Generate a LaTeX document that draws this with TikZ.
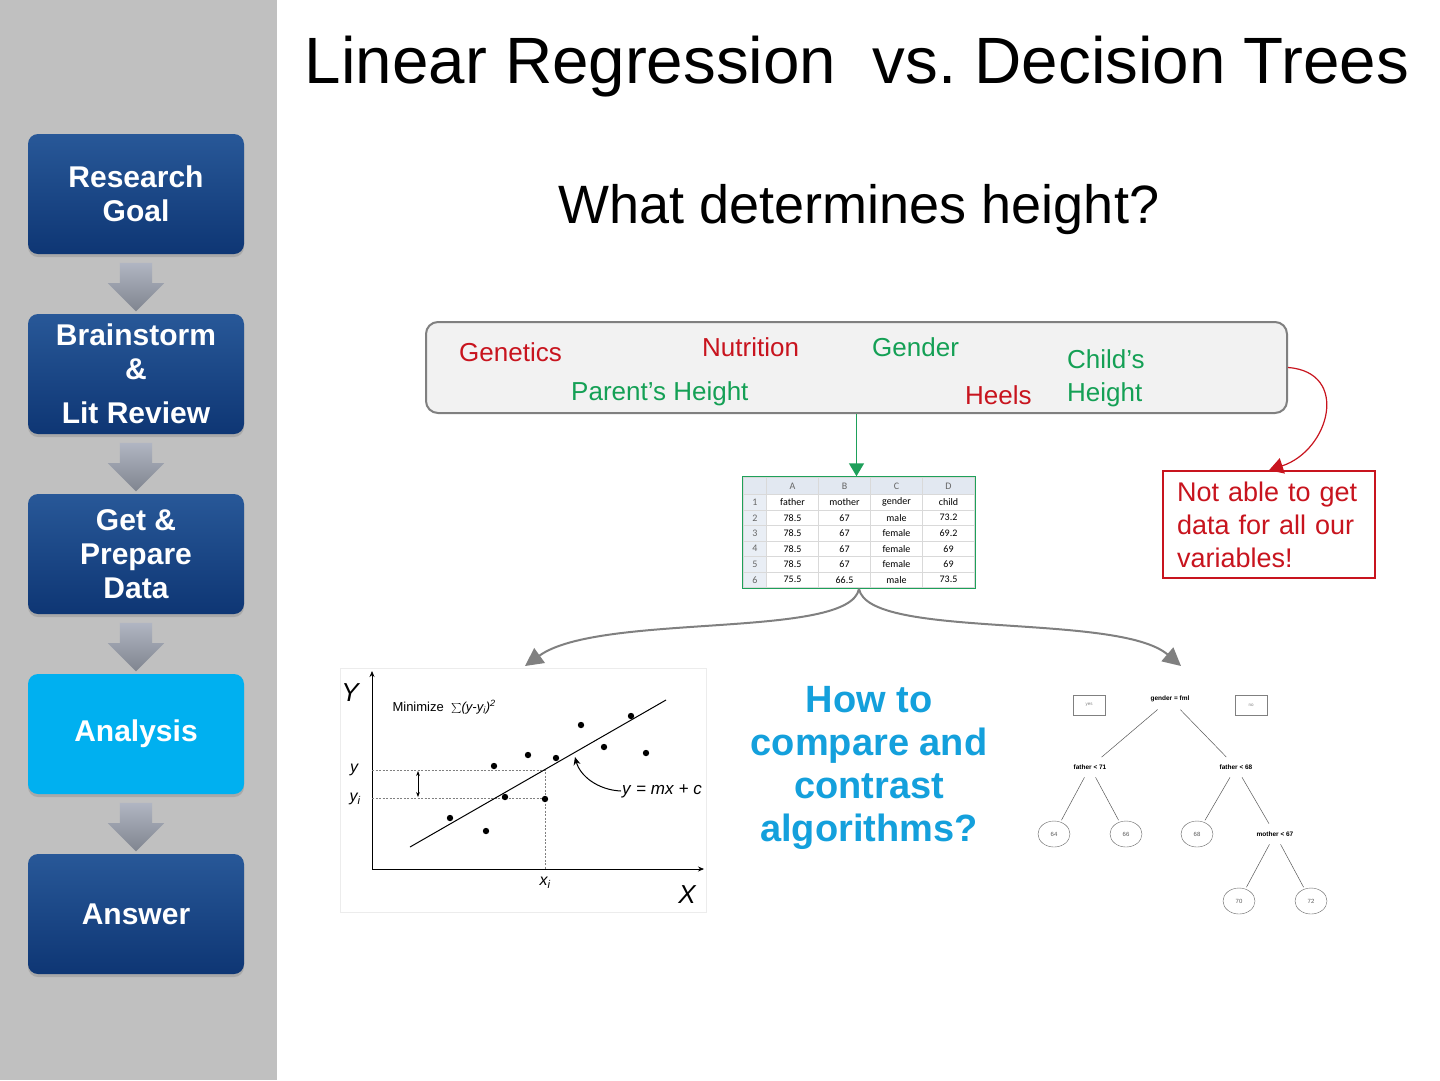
\documentclass[tikz,border=0pt]{standalone}
\usepackage{fontspec}
\setmainfont{Liberation Sans}
\newfontfamily\tabfont{Carlito}
\usetikzlibrary{positioning,calc,matrix,shapes.geometric,shapes.arrows,shadows,arrows.meta}

\definecolor{sidegray}{RGB}{192,192,192}
\definecolor{stagetop}{RGB}{40,88,152}
\definecolor{stagebot}{RGB}{14,54,116}
\definecolor{stagecur}{RGB}{0,176,240}
\definecolor{arrowtop}{RGB}{176,181,194}
\definecolor{arrowbot}{RGB}{128,133,143}
\definecolor{varred}{RGB}{200,20,30}
\definecolor{vargreen}{RGB}{20,160,85}
\definecolor{tabgreen}{RGB}{30,160,90}
\definecolor{howblue}{RGB}{20,160,220}
\definecolor{colhead}{RGB}{226,232,241}
\definecolor{rowhead}{RGB}{233,238,245}

\begin{document}
\begin{tikzpicture}[x=1pt,y=-1pt]
    \tikzset{
        stage/.style={rounded corners=10pt, minimum width=216pt, minimum height=120pt, align=center,
            text=white, font=\fontsize{30}{34}\selectfont\bfseries, top color=stagetop, bottom color=stagebot,
            drop shadow={shadow xshift=0pt, shadow yshift=-3pt, opacity=.35}},
        current/.style={top color=stagecur, bottom color=stagecur},
        flowarrow/.style={single arrow, shape border rotate=270, minimum height=46pt, inner sep=16pt,
            single arrow head extend=12pt, top color=arrowtop, bottom color=arrowbot},
        var/.style={anchor=base west, font=\fontsize{26}{30}\selectfont, inner sep=0pt},
        treesplit/.style={font=\fontsize{6.5}{7}\selectfont\bfseries, inner sep=6pt},
        treebox/.style={draw=gray, minimum width=32pt, minimum height=20pt, inner sep=0pt, font=\fontsize{4.5}{5}\selectfont, text=gray},
        treeleaf/.style={ellipse, draw=gray!80!black, minimum width=32pt, minimum height=26pt, inner sep=0pt, font=\fontsize{6}{7}\selectfont, text=gray!70!black},
        treeedge/.style={gray!70!black, line width=0.5pt, shorten <=2pt, shorten >=2pt},
        splitarrow/.style={draw=gray, line width=2pt, -{Triangle[length=18pt,width=18pt]}}
    }
    \useasboundingbox (0,0) rectangle (1440,1080);
    \fill[white] (0,0) rectangle (1440,1080);
    \fill[sidegray] (0,0) rectangle (277,1080);

    % process steps
    \node[stage] (goal) at (136,194) {Research\\Goal};
    \node[stage] (brain) at (136,374) {Brainstorm\\\&\\[10pt]Lit Review};
    \node[stage] (data) at (136,554) {Get \&\\Prepare\\Data};
    \node[stage,current] (analysis) at (136,734) {Analysis};
    \node[stage] (answer) at (136,914) {Answer};
    \foreach \from/\to [count=\i] in {goal/brain, brain/data, data/analysis, analysis/answer}
        \node[flowarrow] (step\i) at ($(\from.south)!0.5!(\to.north)+(0,-5)$) {};

    % titles
    \node[anchor=base, font=\fontsize{65.5}{70}\selectfont] (title) at (857,83) {Linear Regression\ \ vs.\ Decision Trees};
    \node[anchor=base, font=\fontsize{54}{60}\selectfont] (question) at (859,223) {What determines height?};

    % variables
    \node[draw=gray, line width=2pt, fill=gray!10, rounded corners=12pt, minimum width=861pt, minimum height=91pt] (vars) at (856.5,367.5) {};
    \node[var, text=varred] (genetics) at (459,361) {Genetics};
    \node[var, text=varred] (nutrition) at (702,356) {Nutrition};
    \node[var, text=vargreen] (gender) at (872,356) {Gender};
    \node[var, text=vargreen] (childs) at (1067,368) {Child’s};
    \node[var, text=vargreen] (parents) at (571,400) {Parent’s Height};
    \node[var, text=varred] (heels) at (965,404) {Heels};
    \node[var, text=vargreen] (height) at (1067,401) {Height};

    \node[draw=varred, line width=1.5pt, fill=white, minimum width=212pt, minimum height=107pt, text width=184pt,
        align=left, text=varred, font=\fontsize{27}{33}\selectfont] (nota) at (1269,524.5) {Not able to get\\data for all our\\variables!};
    \draw[varred, line width=1.2pt, -{Triangle[length=14pt,width=16pt]}] (vars.east) .. controls (1350,372) and (1330,450) .. (nota.north);

    % data table
    \matrix[matrix of nodes, nodes in empty cells, draw=tabgreen, line width=2pt, inner sep=0pt,
        column sep=-0.5pt, row sep=-0.5pt,
        nodes={draw=gray!30, line width=0.5pt, minimum width=52pt, minimum height=15.5pt, inner sep=0pt,
            font=\tabfont\fontsize{10}{10}\selectfont, anchor=center},
        column 1/.style={nodes={minimum width=23pt, fill=rowhead, text=gray!80!black}},
        row 1/.style={nodes={minimum height=17pt, fill=colhead, text=gray!80!black}}] (tab) at (859,532.5) {
          & A & B & C & D \\
        1 & father & mother & gender & child \\
        2 & 78.5 & 67 & male & 73.2 \\
        3 & 78.5 & 67 & female & 69.2 \\
        4 & 78.5 & 67 & female & 69 \\
        5 & 78.5 & 67 & female & 69 \\
        6 & 75.5 & 66.5 & male & 73.5 \\
    };
    \draw[tabgreen, line width=1.5pt, -{Triangle[length=13pt,width=15pt]}] (vars.south) -- (vars.south |- tab.north);

    % split into the two methods
    \coordinate (lrtip) at (525,666);
    \coordinate (dttip) at (1181,666);
    \draw[splitarrow] (tab.south) .. controls (850,640) and (600,612) .. (lrtip);
    \draw[splitarrow] (tab.south) .. controls (868,640) and (1118,612) .. (dttip);

    \node[align=center, text=howblue, font=\fontsize{38}{43}\selectfont\bfseries] (howto) at (869,768) {How to\\compare and\\contrast\\algorithms?};

    % linear regression
    \node[draw=gray!15, minimum width=366pt, minimum height=244pt, inner sep=0pt] (lrplot) at (523,790) {};
    \coordinate (origin) at (372,869);
    \draw[line width=0.8pt, -{Stealth[length=6pt,width=5pt]}] (origin) -- (372,671);
    \draw[line width=0.8pt, -{Stealth[length=6pt,width=5pt]}] (origin) -- (704,869);
    \draw[gray, dash pattern=on 2pt off 1.5pt] (372,770) -- (545,770) -- (545,869);
    \draw[gray, dash pattern=on 2pt off 1.5pt] (372,798) -- (545,798);
    \draw[line width=0.7pt, {Stealth[length=5pt]}-{Stealth[length=5pt]}] (418,771) -- (418,797);
    \draw[line width=1pt] (410,847) -- (666,700);
    \foreach \px/\py in {450/818, 486/831, 494/766, 505/797, 528/755, 545/799, 556/758, 581/725, 604/747, 631/716, 646/753}
        \fill (\px,\py) circle[radius=3.2pt];
    \node[font=\fontsize{26}{28}\selectfont\itshape] (ylabel) at (350,693) {Y};
    \node[font=\fontsize{26}{28}\selectfont\itshape] (xlabel) at (687,895) {X};
    \node[font=\fontsize{16}{18}\selectfont\itshape] (ytick) at (354,770) {y};
    \node[font=\fontsize{16}{18}\selectfont\itshape] (yitick) at (355,799) {y\textsubscript{i}};
    \node[font=\fontsize{16}{18}\selectfont\itshape] (xitick) at (545,883) {x\textsubscript{i}};
    \node[anchor=west, font=\fontsize{13}{15}\selectfont] (minimize) at (389,707) {Minimize\ \ $\sum$\textit{(y-y\textsubscript{i})\textsuperscript{2}}};
    \node[anchor=west, font=\fontsize{17}{19}\selectfont, inner sep=1pt] (eqn) at (621,791) {\textit{y} = \textit{mx} + \textit{c}};
    \coordinate (fitpt) at (575,757);
    \draw[line width=1pt, -{Stealth[length=8pt,width=7pt]}] (eqn.west) .. controls (598,790) and (580,776) .. (fitpt);

    % decision tree
    \node[treesplit] (root) at (1170,699) {gender = fml};
    \node[treebox] (yes) at (1089,705) {yes};
    \node[treebox] (no) at (1251,705) {no};
    \node[treesplit] (f71) at (1090,767) {father < 71};
    \node[treesplit] (f68) at (1236,767) {father < 68};
    \node[treeleaf] (l64) at (1054,834) {64};
    \node[treeleaf] (l66) at (1126,834) {66};
    \node[treeleaf] (l68) at (1197,834) {68};
    \node[treesplit] (m67) at (1275,834) {mother < 67};
    \node[treeleaf] (l70) at (1239,901) {70};
    \node[treeleaf] (l72) at (1311,901) {72};
    \foreach \a/\b in {root/f71, root/f68, f71/l64, f71/l66, f68/l68, f68/m67, m67/l70, m67/l72}
        \draw[treeedge] (\a) -- (\b);
\end{tikzpicture}
\end{document}
